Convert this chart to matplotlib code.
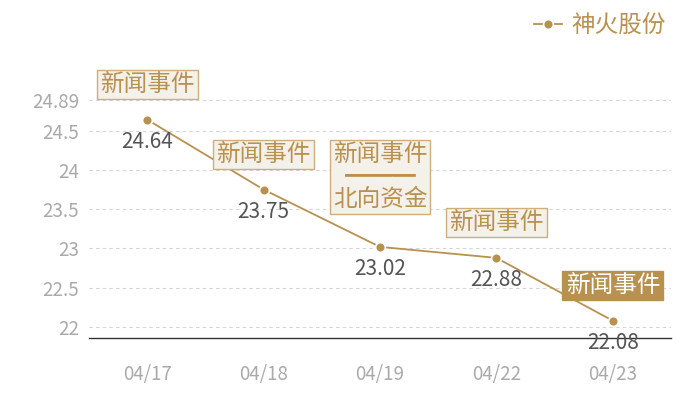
import matplotlib
matplotlib.use("Agg")
import matplotlib.pyplot as plt

plt.rcParams['font.family'] = ['Noto Sans CJK SC', 'DejaVu Sans']

# data
dates = ["04/17", "04/18", "04/19", "04/22", "04/23"]
prices = [24.64, 23.75, 23.02, 22.88, 22.08]
events = ["新闻事件", "新闻事件", "新闻事件\n━━━\n北向资金", "新闻事件", "新闻事件"]
yticks = [22, 22.5, 23, 23.5, 24, 24.5, 24.89]
ytick_labels = ["22", "22.5", "23", "23.5", "24", "24.5", "24.89"]
series_name = "神火股份"

gold = "#B8914F"
box_fill = "#F4F0EA"
box_edge = "#CDAE7C"

fig = plt.figure(figsize=(7, 4), dpi=100)
ax = fig.add_axes([89 / 700, 62 / 400, 582 / 700, 238 / 400])

x = list(range(len(dates)))
ax.plot(x, prices, color=gold, lw=1.3, marker="o", markersize=7,
        markerfacecolor=gold, markeredgecolor="white", markeredgewidth=1.2,
        label=series_name, zorder=3)

ax.set_xlim(-0.5, len(dates) - 0.5)
ax.set_ylim(21.86, 24.89)
ax.set_xticks(x)
ax.set_xticklabels(dates)
ax.set_yticks(yticks)
ax.set_yticklabels(ytick_labels)
ax.tick_params(axis="x", length=0, pad=19, labelsize=13.5, labelcolor="#AAAAAA")
ax.tick_params(axis="y", length=0, pad=7, labelsize=13.5, labelcolor="#AAAAAA")

for s in ["top", "right", "left"]:
    ax.spines[s].set_visible(False)
ax.spines["bottom"].set_color("#333333")
ax.spines["bottom"].set_linewidth(1)

ax.yaxis.grid(True, linestyle=(0, (3, 3)), color="#D5D5D5", lw=0.8)
ax.set_axisbelow(True)

# value labels
for i, p in enumerate(prices):
    ax.annotate(f"{p:.2f}", (i, p), xytext=(0, -22), textcoords="offset pixels",
                ha="center", va="center", fontsize=15, color="#555555",
                annotation_clip=False)

# event boxes
for i, (p, ev) in enumerate(zip(prices, events)):
    last = i == len(events) - 1
    multi = "\n" in ev
    off = 70 if multi else 35
    ax.annotate(ev, (i, p), xytext=(0, off), textcoords="offset pixels",
                ha="center", va="center", fontsize=17, linespacing=0.95,
                color="white" if last else gold,
                bbox=dict(boxstyle="square,pad=0.13",
                          fc=gold if last else box_fill,
                          ec=gold if last else box_edge, lw=1),
                annotation_clip=False, zorder=5)

leg = ax.legend(loc="upper right", bbox_to_anchor=(680 / 700, 1.0),
                bbox_transform=fig.transFigure, frameon=False,
                fontsize=17, handlelength=1.2, handletextpad=0.4,
                borderpad=0.1)
for t in leg.get_texts():
    t.set_color(gold)

fig.savefig("out.png", dpi=100)
